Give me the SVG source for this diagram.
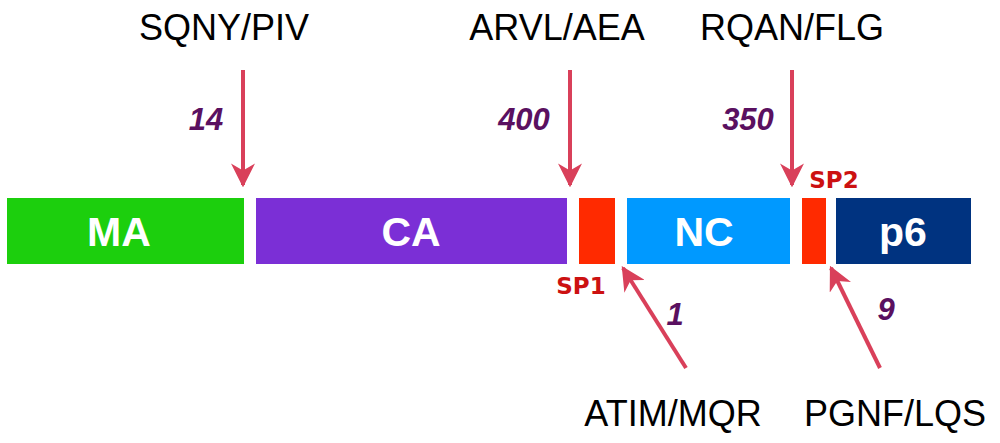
<svg xmlns="http://www.w3.org/2000/svg" width="1000" height="443" viewBox="0 0 1000 443">
<style>
.lbl{font-family:"Liberation Sans",Arial,sans-serif;font-size:36px;fill:#000;text-anchor:middle}
.num{font-family:"Liberation Sans",Arial,sans-serif;font-size:31px;font-weight:bold;font-style:italic;fill:#5a1060;text-anchor:middle}
.seg{font-family:"Liberation Sans",Arial,sans-serif;font-size:41px;font-weight:bold;fill:#fff;text-anchor:middle}
.sp{font-family:"DejaVu Sans",sans-serif;font-size:23px;font-weight:bold;fill:#cc1111;text-anchor:middle}
.arr{stroke:#d9405a;stroke-width:4;fill:none;marker-end:url(#ah)}
</style>
<defs><marker id="ah" viewBox="0 0 10 10" refX="9" refY="5" markerWidth="6" markerHeight="6" orient="auto" markerUnits="strokeWidth"><path d="M0,0 L10,5 L0,10 L3,5 Z" fill="#d9405a"/></marker></defs>
<rect width="1000" height="443" fill="#fff"/>
<g id="MA"><rect x="7" y="198" width="237" height="66" fill="#1ccf0d"/><text class="seg" x="119" y="246">MA</text></g>
<g id="CA"><rect x="256" y="198" width="311" height="66" fill="#7b2fd6"/><text class="seg" x="411" y="246">CA</text></g>
<g id="SP1"><rect x="579" y="198" width="36" height="66" fill="#ff2a00"/><text class="sp" x="581" y="294">SP1</text></g>
<g id="NC"><rect x="627" y="198" width="163" height="66" fill="#0099ff"/><text class="seg" x="704" y="246">NC</text></g>
<g id="SP2"><rect x="802" y="198" width="24" height="66" fill="#ff2a00"/><text class="sp" x="834" y="188">SP2</text></g>
<g id="p6"><rect x="836" y="198" width="135" height="66" fill="#003380"/><text class="seg" x="903" y="246">p6</text></g>
<g id="connectors">
<line class="arr" x1="243" y1="70" x2="243" y2="185"/>
<line class="arr" x1="570" y1="70" x2="570" y2="185"/>
<line class="arr" x1="792" y1="70" x2="792" y2="185"/>
<line class="arr" x1="686" y1="368" x2="623" y2="268"/>
<line class="arr" x1="880" y1="368" x2="831" y2="268"/>
</g>
<text class="lbl" x="224" y="40">SQNY/PIV</text>
<text class="lbl" x="557" y="40">ARVL/AEA</text>
<text class="lbl" x="792" y="40">RQAN/FLG</text>
<text class="lbl" x="673" y="426">ATIM/MQR</text>
<text class="lbl" x="895" y="426">PGNF/LQS</text>
<text class="num" x="206" y="130">14</text>
<text class="num" x="524" y="130">400</text>
<text class="num" x="748" y="130">350</text>
<text class="num" x="675" y="325">1</text>
<text class="num" x="886" y="320">9</text>
</svg>
